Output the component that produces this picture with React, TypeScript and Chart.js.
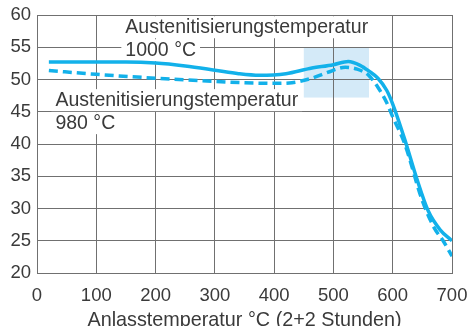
import React, { useEffect, useRef } from "react";
import { Chart, registerables } from "chart.js";

Chart.register(...registerables);

// Anlasstemperatur (°C) and hardness for austenitizing at 1000 °C
const temp1000 = [20, 100, 150, 200, 250, 300, 340, 375, 420, 460, 500, 525, 545, 560, 575, 590, 600, 620, 640, 660, 680, 700];
const hard1000 = [52.7, 52.7, 52.7, 52.55, 52.1, 51.45, 50.9, 50.65, 50.9, 51.7, 52.3, 52.8, 52.2, 51.3, 50.2, 48.3, 46.2, 40.8, 34.8, 29.6, 26.7, 25.0];

// Anlasstemperatur (°C) and hardness for austenitizing at 980 °C
const temp980 = [20, 100, 200, 300, 350, 400, 430, 460, 490, 520, 540, 560, 575, 590, 600, 620, 650, 670, 685, 700];
const hard980 = [51.4, 50.8, 50.2, 49.7, 49.5, 49.4, 49.5, 50.1, 51.1, 51.9, 51.6, 50.6, 48.8, 46.4, 44.2, 40.1, 31.2, 27.0, 25.0, 22.6];

// axis ranges and steps
const xRange = [0, 700];
const xStep = 100;
const yRange = [20, 60];
const yStep = 5;

// highlighted tempering window
const windowTemp = [450, 560];
const windowHard = [47.2, 55];

// curve labels
const label1000 = ["Austenitisierungstemperatur", "1000 °C"];
const label980 = ["Austenitisierungstemperatur", "980 °C"];
const xTitle = "Anlasstemperatur °C (2+2 Stunden)";

const CYAN = "#12b1ea";
const GRID = "#707070";
const TEXT = "#3a3a3a";
const FONT = '"Liberation Sans", Arial, Helvetica, sans-serif';

const backdropPlugin = {
  id: "backdrop",
  beforeDraw(chart: any) {
    const { ctx, scales } = chart;
    const xs = scales.x;
    const ys = scales.y;
    const x0 = xs.getPixelForValue(windowTemp[0]);
    const x1 = xs.getPixelForValue(windowTemp[1]);
    const y0 = ys.getPixelForValue(windowHard[1]);
    const y1 = ys.getPixelForValue(windowHard[0]);
    ctx.save();
    ctx.fillStyle = "#d4eaf8";
    ctx.fillRect(x0, y0, x1 - x0, y1 - y0);
    ctx.restore();
  },
};

const labelPlugin = {
  id: "curveLabels",
  beforeDatasetsDraw(chart: any) {
    const { ctx, scales } = chart;
    const xs = scales.x;
    const ys = scales.y;
    const drawBlock = (lines: string[], xv: number, yv: number) => {
      const left = xs.getPixelForValue(xv);
      let cy = ys.getPixelForValue(yv);
      ctx.save();
      ctx.font = `19.5px ${FONT}`;
      ctx.textBaseline = "middle";
      ctx.textAlign = "left";
      for (const line of lines) {
        const w = ctx.measureText(line).width;
        ctx.fillStyle = "#ffffff";
        ctx.fillRect(left - 4, cy - 11, w + 8, 22);
        ctx.fillStyle = TEXT;
        ctx.fillText(line, left, cy);
        cy += 23;
      }
      ctx.restore();
    };
    drawBlock(label1000, 149, 58.1);
    drawBlock(label980, 31, 46.8);
  },
};

export default function App() {
  const canvasRef = useRef<HTMLCanvasElement | null>(null);

  useEffect(() => {
    if (!canvasRef.current) return;
    const chart = new Chart(canvasRef.current, {
      type: "line",
      data: {
        datasets: [
          {
            label: label1000[1],
            data: temp1000.map((t, i) => ({ x: t, y: hard1000[i] })),
            borderColor: CYAN,
            borderWidth: 3.5,
            pointRadius: 0,
            cubicInterpolationMode: "monotone",
            fill: false,
          },
          {
            label: label980[1],
            data: temp980.map((t, i) => ({ x: t, y: hard980[i] })),
            borderColor: CYAN,
            borderWidth: 3.5,
            borderDash: [9, 5],
            pointRadius: 0,
            cubicInterpolationMode: "monotone",
            fill: false,
          },
        ],
      },
      options: {
        animation: false,
        responsive: true,
        maintainAspectRatio: false,
        layout: { padding: { top: 15, right: 19, left: 0, bottom: 0 } },
        plugins: {
          legend: { display: false },
          tooltip: { enabled: false },
        },
        scales: {
          x: {
            type: "linear",
            min: xRange[0],
            max: xRange[1],
            ticks: {
              stepSize: xStep,
              color: TEXT,
              font: { family: FONT, size: 18.5 },
              padding: 12,
              maxRotation: 0,
              autoSkip: false,
            },
            grid: { color: GRID, lineWidth: 1, drawTicks: false },
            border: { color: GRID, width: 1 },
            title: {
              display: true,
              text: xTitle,
              color: TEXT,
              font: { family: FONT, size: 19.8, lineHeight: "10px" },
              padding: 0,
            },
            afterFit: (s: any) => {
              s.height = 53;
              s.paddingLeft = 0;
              s.paddingRight = 0;
            },
          },
          y: {
            type: "linear",
            min: yRange[0],
            max: yRange[1],
            ticks: {
              stepSize: yStep,
              color: TEXT,
              font: { family: FONT, size: 18.5 },
              padding: 6,
            },
            grid: { color: GRID, lineWidth: 1, drawTicks: false },
            border: { color: GRID, width: 1 },
            afterFit: (s: any) => {
              s.width = 37;
              s.paddingTop = 0;
              s.paddingBottom = 0;
            },
          },
        },
      },
      plugins: [backdropPlugin, labelPlugin],
    } as any);
    return () => chart.destroy();
  }, []);

  return (
    <div style={{ position: "fixed", left: 0, top: 0, width: 471, height: 326, background: "#fff" }}>
      <canvas ref={canvasRef} />
    </div>
  );
}
